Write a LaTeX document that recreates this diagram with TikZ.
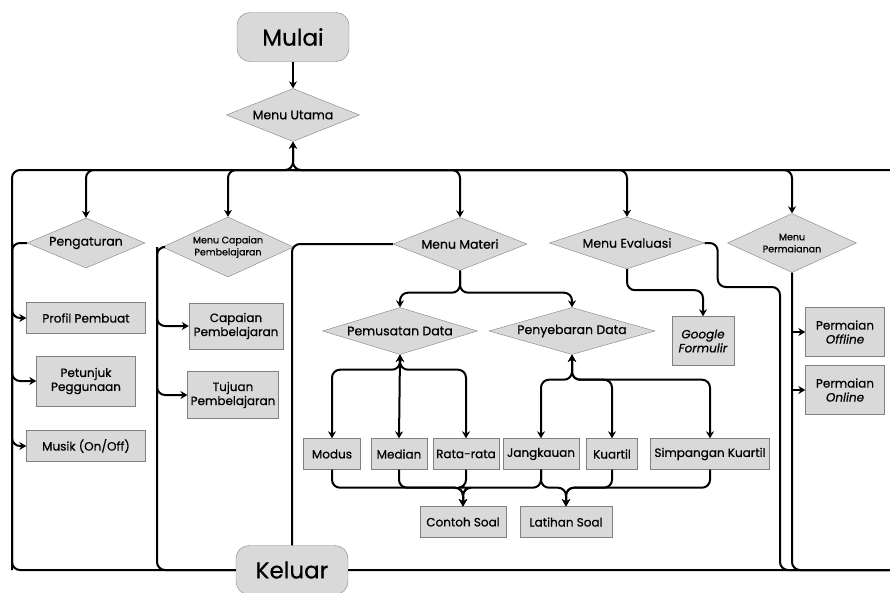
\documentclass[tikz,border=0pt]{standalone}
\usepackage{fontspec}
\setmainfont{Poppins}[FakeBold=0.6]
\usetikzlibrary{arrows.meta,positioning,shapes.geometric}
\definecolor{boxgray}{HTML}{D9D9D9}
\definecolor{edgegray}{HTML}{808080}

\begin{document}
\begin{tikzpicture}[
    x=1pt, y=-1pt,
    font=\fontsize{12}{14}\selectfont,
    term/.style={draw=edgegray, fill=boxgray, rounded corners=13pt, minimum width=112pt,
                 minimum height=49pt, font=\fontsize{23}{27}\selectfont},
    menu/.style={diamond, draw=edgegray, fill=boxgray, aspect=3.5, inner sep=0pt, align=center,
                 font=\fontsize{12.5}{15}\selectfont},
    small/.style={aspect=2.2, font=\fontsize{9.5}{12}\selectfont},
    item/.style={draw=edgegray, fill=boxgray, minimum height=31pt, align=center, inner xsep=3pt},
    line/.style={line width=2pt, rounded corners=8pt},
    arr/.style={line, -{Stealth[length=7pt, width=8pt]}},
    dual/.style={line, {Stealth[length=7pt, width=8pt]}-{Stealth[length=7pt, width=8pt]}}
  ]
  \useasboundingbox (0,0) rectangle (890,592);

  % start and end
  \node[term] (mulai)  at (293,37)  {Mulai};
  \node[term] (keluar) at (292,570) {Keluar};

  % menus
  \node[menu, minimum width=133pt, minimum height=53pt] (utama) at (293,115) {Menu Utama};
  \node[menu, minimum width=118pt, minimum height=50pt] (atur) at (86,243) {Pengaturan};
  \node[menu, small, minimum width=131pt, minimum height=60pt]
       (capaian) at (228,247) {Menu Capaian\\Pembelajaran};
  \node[menu, minimum width=134pt, minimum height=53pt] (materi) at (460,244) {Menu Materi};
  \node[menu, minimum width=155pt, minimum height=52pt] (evaluasi) at (627,243) {Menu Evaluasi};
  \node[menu, small, minimum width=129pt, minimum height=59pt]
       (permainan) at (792,243) {Menu\\Permaianan};
  \node[menu, minimum width=155pt, minimum height=47pt] (pusat) at (400,331) {Pemusatan Data};
  \node[menu, minimum width=166pt, minimum height=47pt] (sebar) at (572,331) {Penyebaran Data};

  % boxes
  \node[item, minimum width=119pt] (profil) at (86,318) {Profil Pembuat};
  \node[item, minimum width=99pt, minimum height=50pt] (petunjuk) at (86,381) {Petunjuk\\Peggunaan};
  \node[item, minimum width=119pt] (musik) at (86,446) {Musik (On/Off)};
  \node[item, minimum width=94pt, minimum height=46pt] (cp) at (236,326) {Capaian\\Pembelajaran};
  \node[item, minimum width=87pt, minimum height=47pt] (tp) at (233,395) {Tujuan\\Pembelajaran};
  \node[item, minimum width=62pt, minimum height=49pt] (google) at (703,341) {\textit{Google}\\\textit{Formulir}};
  \node[item, minimum width=79pt, minimum height=49pt] (offline) at (845,332) {Permaian\\\textit{Offline}};
  \node[item, minimum width=79pt, minimum height=49pt] (online) at (845,390) {Permaian\\\textit{Online}};

  \node[item, minimum width=57pt] (modus) at (332,454) {Modus};
  \node[item, minimum width=56pt] (median) at (399,454) {Median};
  \node[item, minimum width=65pt] (rata) at (466,454) {Rata-rata};
  \node[item, minimum width=76pt] (jangkauan) at (541,454) {Jangkauan};
  \node[item, minimum width=51pt] (kuartil) at (612,454) {Kuartil};
  \node[item, minimum width=119pt] (simpangan) at (710,454) {Simpangan Kuartil};
  \node[item, minimum width=86pt] (contoh) at (463,522) {Contoh Soal};
  \node[item, minimum width=92pt] (latihan) at (566,522) {Latihan Soal};

  % bus corners
  \coordinate (hub) at (293,170);
  \coordinate (nw) at (12,170);
  \coordinate (sw) at (12,570);
  \coordinate (ne) at (898,170);
  \coordinate (se) at (898,570);
  \coordinate (cpbot) at (157,570);
  \coordinate (evbot) at (780,570);
  \coordinate (pmbot) at (792,570);

  \draw[arr] (mulai) -- (utama);
  \draw[arr] (keluar.west) -| (nw) -| (utama.south);
  \draw[arr] (keluar.east) -- (se) -- (ne) -| (utama.south);
  \foreach \mn in {atur,capaian,materi,evaluasi,permainan}
    \draw[arr] (hub) -| (\mn.north);

  % pengaturan
  \draw[line] (atur.west) -| (sw);
  \foreach \bx in {profil,petunjuk,musik}
    \draw[arr] (atur.west -| nw) |- (\bx.west);

  % capaian
  \draw[line] (capaian.west) -| (cpbot) -- (keluar.west);
  \foreach \bx in {cp,tp}
    \draw[arr] (capaian.west -| cpbot) |- (\bx.west);

  % materi
  \draw[line] (materi.west) -| (keluar.north);
  \draw[arr] (materi.south) -- ++(0,22) -| (pusat.north);
  \draw[arr] (materi.south) -- ++(0,22) -| (sebar.north);
  \draw[dual] (pusat.south) -- (median.north);
  \foreach \bx in {modus,rata}
    \draw[dual] (pusat.south) -- ++(0,15) -| (\bx.north);
  \foreach \bx in {jangkauan,kuartil,simpangan}
    \draw[dual] (sebar.south) -- ++(0,25) -| (\bx.north);
  \foreach \bx in {modus,median,rata,jangkauan}
    \draw[arr] (\bx.south) -- ++(0,18) -| (contoh.north);
  \foreach \bx in {jangkauan,kuartil,simpangan}
    \draw[arr] (\bx.south) -- ++(0,18) -| (latihan.north);

  % evaluasi
  \draw[arr] (evaluasi.south) -- ++(0,21) -| (google.north);
  \draw[line] (evaluasi.east) -| ++(13,44) -| (evbot) -- (se);

  % permainan
  \draw[line] (permainan.south) -- (pmbot) -- (se);
  \foreach \bx in {offline,online}
    \draw[arr] (permainan.south |- \bx.west) -- (\bx.west);
\end{tikzpicture}
\end{document}
